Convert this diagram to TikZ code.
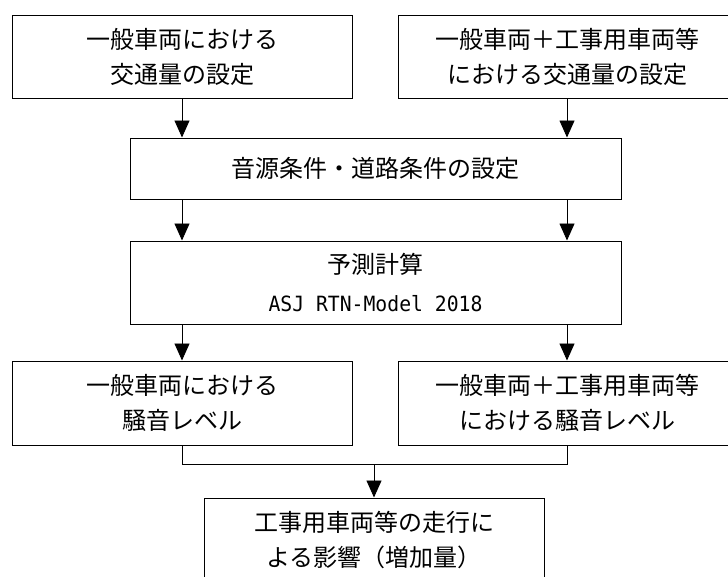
\documentclass[tikz,border=0pt]{standalone}
\usepackage{fontspec}
\usepackage{graphicx}
\setmainfont{Noto Sans CJK JP}
\newfontfamily\latinmono{DejaVu Sans Mono}
\usetikzlibrary{arrows.meta,calc}
\begin{document}
\begin{tikzpicture}[x=1pt,y=-1pt,
  box/.style={draw,line width=1pt,inner sep=0pt,align=center,
    font=\fontsize{24}{35}\selectfont},
  arr/.style={line width=0.9pt,-{Triangle[width=15pt,length=17pt]}},
  lin/.style={line width=0.9pt}]
\useasboundingbox (0,0) rectangle (728,576);
\node[box,minimum width=340pt,minimum height=83pt] (b1) at (182,56.5) {一般車両における\\交通量の設定};
\node[box,minimum width=338pt,minimum height=83pt] (b2) at (567,56.5) {一般車両＋工事用車両等\\における交通量の設定};
\node[box,minimum width=491pt,minimum height=61pt] (b3) at (375.5,168.5) {音源条件・道路条件の設定};
\node[box,minimum width=491pt,minimum height=83pt,font=\fontsize{24}{38}\selectfont] (b4) at (375.5,282.5) {予測計算\\{\latinmono\fontsize{21}{38}\selectfont\scalebox{0.94}[1]{ASJ RTN-Model 2018}}};
\node[box,minimum width=340pt,minimum height=84pt] (b5) at (182,403) {一般車両における\\騒音レベル};
\node[box,minimum width=338pt,minimum height=84pt] (b6) at (567,403) {一般車両＋工事用車両等\\における騒音レベル};
\node[box,minimum width=340pt,minimum height=84pt] (b7) at (374,540) {工事用車両等の走行に\\よる影響（増加量）};
\draw[arr] (b1.south) -- (b1.south |- b3.north);
\draw[arr] (b2.south) -- (b2.south |- b3.north);
\draw[arr] (b1.south |- b3.south) -- (b1.south |- b4.north);
\draw[arr] (b2.south |- b3.south) -- (b2.south |- b4.north);
\draw[arr] (b5.north |- b4.south) -- (b5.north);
\draw[arr] (b6.north |- b4.south) -- (b6.north);
\coordinate (j) at ($(b5.south)+(0,19)$);
\draw[lin] (b5.south) -- (j) -| (b6.south);
\draw[arr] (b7.north |- j) -- (b7.north);
\end{tikzpicture}
\end{document}
